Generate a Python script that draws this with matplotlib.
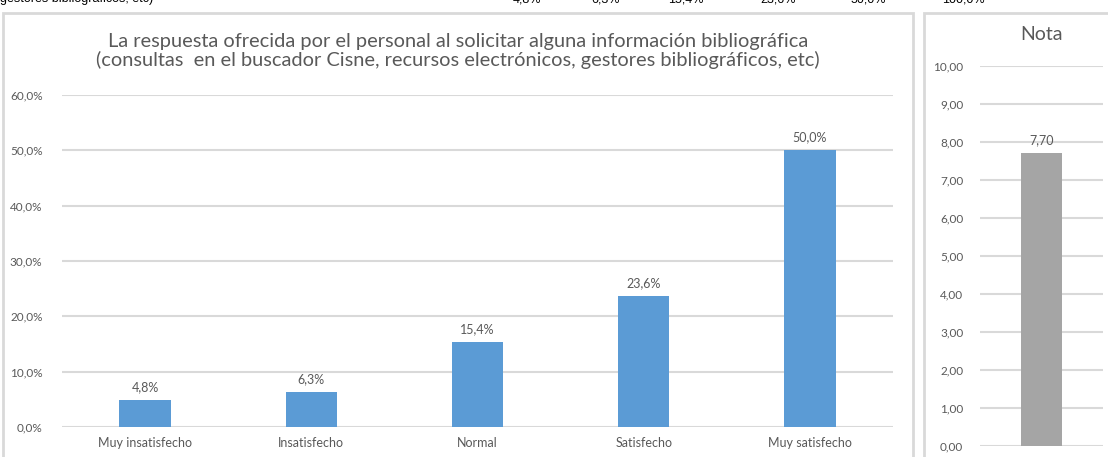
import matplotlib.pyplot as plt
from matplotlib.patches import Rectangle

plt.rcParams['font.family'] = ['Lato', 'DejaVu Sans']

# Data
categories = ['Muy insatisfecho', 'Insatisfecho', 'Normal', 'Satisfecho', 'Muy satisfecho']
percent = [4.8, 6.3, 15.4, 23.6, 50.0]
nota = [7.70]
header_values = ['4,8%', '6,3%', '15,4%', '23,6%', '50,0%', '100,0%']
header_x = [527, 606, 686, 778, 868, 963]

W, H = 1108, 457
fig = plt.figure(figsize=(W / 100, H / 100), dpi=100)
grid_c = '#d9d9d9'
text_c = '#595959'


def box(x0, y0, x1, y1):
    # pixel coords (top-left origin) -> figure fraction
    return [x0 / W, 1 - y1 / H, (x1 - x0) / W, (y1 - y0) / H]


# panel borders
for x0, x1 in [(3, 913), (924, 1120)]:
    fig.patches.append(Rectangle((x0 / W, -0.05), (x1 - x0) / W, 1.05 - 13 / H,
                                 transform=fig.transFigure, fill=False,
                                 edgecolor=grid_c, linewidth=2))

# cut-off header row from the table above
fig.text(0 / W, 1 + 1 / H, 'gestores bibliográficos, etc)', fontsize=9,
         family='Liberation Sans', va='center', ha='left', color='black')
for x, v in zip(header_x, header_values):
    fig.text(x / W, 1 + 1 / H, v, fontsize=9, family='Liberation Sans',
             va='center', ha='center', color='black')

# left chart
ax = fig.add_axes(box(62, 95, 893, 427))
xs = range(len(categories))
ax.bar(xs, percent, width=0.31, color='#5b9bd5', zorder=3)
ax.set_xlim(-0.5, len(categories) - 0.5)
ax.set_ylim(0, 60)
ax.set_yticks(range(0, 61, 10))
ax.set_yticklabels([f'{v:.1f}%'.replace('.', ',') for v in range(0, 61, 10)])
ax.set_xticks(list(xs))
ax.set_xticklabels(categories)
ax.grid(axis='y', color=grid_c, linewidth=1.5, zorder=0)
for s in ax.spines.values():
    s.set_visible(False)
ax.tick_params(length=0, labelsize=8.5, colors=text_c)
ax.tick_params(axis='x', labelsize=9, pad=7)
ax.tick_params(axis='y', pad=14)
for x, v in zip(xs, percent):
    ax.annotate(f'{v:.1f}%'.replace('.', ','), (x, v), xytext=(0, 5),
                textcoords='offset points', ha='center', va='bottom',
                fontsize=9, color=text_c)
fig.text(458 / W, 1 - 51 / H,
         'La respuesta ofrecida por el personal al solicitar alguna información bibliográfica\n'
         '(consultas  en el buscador Cisne, recursos electrónicos, gestores bibliográficos, etc)',
         ha='center', va='center', fontsize=14.4, color=text_c, linespacing=1.1)

# right chart
ax2 = fig.add_axes(box(980, 66, 1103, 446))
ax2.bar([0], nota, width=0.33, color='#a5a5a5', zorder=3)
ax2.set_xlim(-0.5, 0.5)
ax2.set_ylim(0, 10)
ax2.set_yticks(range(0, 11))
ax2.set_yticklabels([f'{v:.2f}'.replace('.', ',') for v in range(0, 11)])
ax2.set_xticks([])
ax2.grid(axis='y', color=grid_c, linewidth=1.5, zorder=0)
for s in ax2.spines.values():
    s.set_visible(False)
ax2.tick_params(length=0, labelsize=8.5, colors=text_c, pad=12)
ax2.annotate(f'{nota[0]:.2f}'.replace('.', ','), (0, nota[0]), xytext=(0, 5),
             textcoords='offset points', ha='center', va='bottom',
             fontsize=9, color=text_c)
fig.text(1041 / W, 1 - 35 / H, 'Nota', ha='center', va='center',
         fontsize=14, color=text_c)

fig.savefig('out.png', dpi=100)
